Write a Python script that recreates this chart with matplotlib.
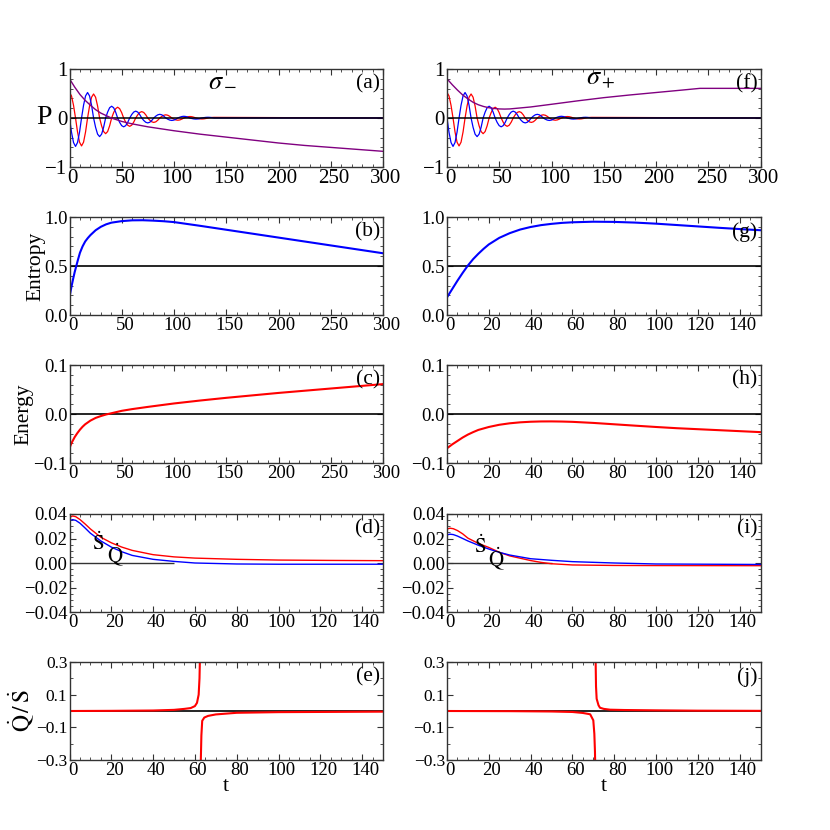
import matplotlib
matplotlib.use("Agg")
import matplotlib.pyplot as plt
import matplotlib.transforms as mtrans
from matplotlib.ticker import MultipleLocator

plt.rcParams['font.family'] = ['Liberation Serif', 'DejaVu Serif']
plt.rcParams['mathtext.fontset'] = 'stix'

BLUE = '#0000ff'
RED = '#ff0000'
PURPLE = '#800080'

# ---------------- data --------------------------------------

# polarisation components (panels a, f), sampled every 1.92 time units
t_osc = [0, 1.92, 3.84, 5.76, 7.68, 9.6, 11.52, 13.44, 15.36, 17.28, 19.2, 21.12,
         23.04, 24.96, 26.88, 28.8, 30.72, 32.64, 34.56, 36.48, 38.4, 40.32, 42.24, 44.16,
         46.08, 48.0, 49.92, 51.84, 53.76, 55.68, 57.6, 59.52, 61.44, 63.36, 65.28, 67.2,
         69.12, 71.04, 72.96, 74.88, 76.8, 78.72, 80.64, 82.56, 84.48, 86.4, 88.32, 90.24,
         92.16, 94.08, 96.0, 97.92, 99.84, 101.76, 103.68, 105.6, 107.52, 109.44, 111.36, 113.28,
         115.2, 117.12, 119.04, 120.96, 122.88, 124.8, 126.72, 128.64, 130.56, 132.48, 134.4, 136.32,
         138.24, 300]
p_blue = [0, -0.29, -0.50, -0.58, -0.50, -0.29, 0, 0.26, 0.45, 0.52, 0.45, 0.26,
          0, -0.19, -0.33, -0.38, -0.33, -0.19, 0, 0.12, 0.21, 0.24, 0.21, 0.12,
          0, -0.09, -0.156, -0.18, -0.156, -0.09, 0, 0.07, 0.121, 0.14, 0.121, 0.07,
          0, -0.05, -0.087, -0.10, -0.087, -0.05, 0, 0.0375, 0.065, 0.075, 0.065, 0.0375,
          0, -0.025, -0.043, -0.05, -0.043, -0.025, 0, 0.0175, 0.03, 0.035, 0.03, 0.0175,
          0, -0.011, -0.019, -0.022, -0.019, -0.011, 0, 0.0075, 0.013, 0.015, 0.013, 0.0075,
          0, 0]
p_red = [0.52, 0.45, 0.26, 0, -0.285, -0.494, -0.57, -0.494, -0.285, 0, 0.245, 0.424,
         0.49, 0.424, 0.245, 0, -0.16, -0.277, -0.32, -0.277, -0.16, 0, 0.11, 0.19,
         0.22, 0.19, 0.11, 0, -0.085, -0.147, -0.17, -0.147, -0.085, 0, 0.065, 0.113,
         0.13, 0.113, 0.065, 0, -0.045, -0.078, -0.09, -0.078, -0.045, 0, 0.0325, 0.056,
         0.065, 0.056, 0.0325, 0, -0.0225, -0.039, -0.045, -0.039, -0.0225, 0, 0.015, 0.026,
         0.03, 0.026, 0.015, 0, -0.01, -0.017, -0.02, -0.017, -0.01, 0, 0.0065, 0.011,
         0.013, 0]

t_pa = [0, 5, 10, 15, 20, 25, 30, 40, 50, 60, 75, 100, 125, 150, 175, 200, 225, 250, 275, 300]
p_purple_a = [0.80, 0.63, 0.48, 0.36, 0.26, 0.17, 0.10, 0.0, -0.07, -0.12, -0.18, -0.26,
              -0.33, -0.39, -0.45, -0.51, -0.56, -0.60, -0.64, -0.68]
t_pf = [0, 5, 10, 15, 20, 25, 30, 35, 40, 45, 50, 55, 60, 70, 80, 100, 125, 150, 175, 200,
        225, 242, 300]
p_purple_f = [0.80, 0.68, 0.57, 0.47, 0.39, 0.32, 0.27, 0.235, 0.21, 0.195, 0.185, 0.182,
              0.185, 0.205, 0.225, 0.28, 0.35, 0.415, 0.47, 0.52, 0.57, 0.605, 0.605]

# entropy (b, g)
t_sb = [0, 1, 2, 3.5, 5, 6.5, 8, 10, 12.5, 15, 17.5, 20, 25, 30, 35, 40, 50, 60, 70, 80, 90,
        100, 125, 150, 175, 200, 225, 250, 275, 300]
s_b = [0.18, 0.24, 0.295, 0.37, 0.44, 0.50, 0.56, 0.635, 0.70, 0.75, 0.785, 0.815, 0.865, 0.90,
       0.925, 0.942, 0.958, 0.966, 0.967, 0.963, 0.957, 0.948, 0.91, 0.87, 0.83, 0.79, 0.75,
       0.71, 0.67, 0.63]
t_sg = [0, 2.5, 5, 7.5, 10, 12.5, 15, 17.5, 20, 25, 30, 35, 40, 45, 50, 55, 60, 70, 80, 90,
        100, 110, 120, 130, 140, 150]
s_g = [0.18, 0.265, 0.35, 0.43, 0.505, 0.57, 0.625, 0.675, 0.72, 0.787, 0.835, 0.872, 0.898,
       0.917, 0.93, 0.94, 0.946, 0.952, 0.95, 0.943, 0.932, 0.918, 0.904, 0.89, 0.877, 0.865]

# energy (c, h)
t_ec = [0, 1, 2.5, 5, 7.5, 10, 12.5, 15, 20, 25, 30, 35, 40, 50, 60, 75, 100, 125, 150, 200,
        250, 300]
e_c = [-0.0704, -0.064, -0.057, -0.047, -0.039, -0.032, -0.026, -0.021, -0.0135, -0.008,
       -0.0042, -0.001, 0.0015, 0.0065, 0.010, 0.0145, 0.0215, 0.0275, 0.033, 0.043, 0.052, 0.061]
t_eh = [0, 2.5, 5, 7.5, 10, 12.5, 15, 20, 25, 30, 35, 40, 45, 50, 55, 60, 70, 80, 90, 100,
        110, 120, 135, 150]
e_h = [-0.070, -0.062, -0.055, -0.048, -0.042, -0.037, -0.0325, -0.0265, -0.022, -0.019,
       -0.017, -0.0158, -0.0152, -0.0151, -0.0154, -0.016, -0.0182, -0.021, -0.0238, -0.0265,
       -0.029, -0.031, -0.034, -0.037]

# rates (d, i): red = S dot, blue = Q dot
t_dr = [0, 1.5, 3, 5, 7.5, 10, 15, 20, 25, 30, 40, 50, 60, 80, 100, 125, 150]
d_red = [0.0373, 0.0384, 0.0378, 0.0355, 0.0318, 0.0278, 0.021, 0.0165, 0.013, 0.0103, 0.0068,
         0.005, 0.004, 0.003, 0.0024, 0.0021, 0.0019]
t_db = [0, 1.5, 3, 5, 7.5, 10, 15, 20, 25, 30, 40, 50, 60, 80, 100, 150]
d_blue = [0.0346, 0.0354, 0.0348, 0.0325, 0.0285, 0.0243, 0.018, 0.013, 0.0092, 0.0062, 0.003,
          0.0013, 0.0, -0.0008, -0.001, -0.001]
t_ir = [0, 1.5, 3, 5, 7.5, 10, 15, 20, 25, 30, 40, 45, 50, 60, 80, 100, 150]
i_red = [0.0278, 0.0284, 0.0280, 0.0265, 0.0238, 0.0203, 0.016, 0.0127, 0.0088, 0.0058, 0.002,
         0.0005, -0.0006, -0.0016, -0.002, -0.0021, -0.0022]
t_ib = [0, 1.5, 3, 5, 7.5, 10, 15, 20, 25, 30, 40, 50, 60, 80, 100, 150]
i_blue = [0.023, 0.0235, 0.0232, 0.022, 0.020, 0.018, 0.0145, 0.0114, 0.0087, 0.0065, 0.0035,
          0.0022, 0.0011, 0.0, -0.0008, -0.0012]
rate_zero_end = 50

# ratio Q dot / S dot (e, j), two branches around the pole
t_e1 = [0, 20, 40, 50, 55, 58, 60, 61, 61.8, 62.2, 62.4]
r_e1 = [0.0, 0.001, 0.003, 0.007, 0.013, 0.018, 0.03, 0.05, 0.1, 0.2, 0.32]
t_e2 = [62.8, 63.1, 63.5, 64.5, 66.3, 70, 80, 100, 150]
r_e2 = [-0.32, -0.15, -0.06, -0.04, -0.03, -0.021, -0.011, -0.007, -0.004]
t_j1 = [0, 30, 50, 60, 65, 68.5, 70, 70.5, 70.8, 70.9]
r_j1 = [0, -0.001, -0.003, -0.006, -0.012, -0.02, -0.057, -0.14, -0.25, -0.32]
t_j2 = [71.1, 71.3, 71.6, 72.5, 73.2, 75, 78, 85, 100, 120, 150]
r_j2 = [0.32, 0.15, 0.075, 0.035, 0.02, 0.013, 0.008, 0.006, 0.004, 0.002, 0.001]

# ---------------- layout -----------------

FIG = 830.0
COL_X = [69.5, 447.0]
ROW_Y = [69, 217, 365, 514, 662]
W, H = 313.5, 98.0

fig = plt.figure(figsize=(8.3, 8.3), dpi=100)
shift = mtrans.ScaledTranslation(3 / 100, 0, fig.dpi_scale_trans)


def make_ax(col, row):
    x0, y0 = COL_X[col], ROW_Y[row]
    return fig.add_axes([x0 / FIG, 1 - (y0 + H) / FIG, W / FIG, H / FIG])


def fmt(v, nd):
    return (f"{v:.{nd}f}").replace('-', '\u2212')


def style(ax, xmax, ylim, yticks, nd, yminor, label, size=13.5, ysize=None):
    ax.set_xlim(0, xmax)
    ax.set_ylim(*ylim)
    if xmax == 300:
        ax.xaxis.set_major_locator(MultipleLocator(50))
        ax.xaxis.set_minor_locator(MultipleLocator(10))
    else:
        ax.xaxis.set_major_locator(MultipleLocator(20))
        ax.xaxis.set_minor_locator(MultipleLocator(5))
    ax.set_yticks(yticks)
    ax.set_yticklabels([fmt(v, nd) for v in yticks])
    ax.yaxis.set_minor_locator(MultipleLocator(yminor))
    ax.tick_params(which='both', direction='in', top=True, right=True, color='#333333')
    ax.tick_params(which='major', length=4, width=0.8, labelsize=size, pad=1.5)
    ax.tick_params(axis='y', labelsize=ysize or size)
    ax.tick_params(which='minor', length=2, width=0.6)
    for lab in ax.get_xticklabels():
        lab.set_transform(lab.get_transform() + shift)
    for s in ax.spines.values():
        s.set_linewidth(1.0)
        s.set_color('#333333')
    ax.text(0.99, 0.85, label, transform=ax.transAxes, ha='right', va='center', fontsize=15.5)


axes = {}
for col, names in enumerate(['abcde', 'fghij']):
    for row, nm in enumerate(names):
        axes[nm] = make_ax(col, row)

# (a) / (f)
for nm, tp, pp, sig in [('a', t_pa, p_purple_a, r'$\sigma_-$'), ('f', t_pf, p_purple_f, r'$\sigma_+$')]:
    ax = axes[nm]
    ax.plot(t_osc, p_red, color=RED, lw=0.9)
    ax.plot(t_osc, p_blue, color=BLUE, lw=0.9)
    ax.axhline(0, color='k', lw=1.1)
    ax.plot(tp, pp, color=PURPLE, lw=1.0)
    style(ax, 300, (-1, 1), [-1, 0, 1], 0, 0.2, f'({nm})', size=15)
    ax.text(147, 0.78, sig, ha='center', va='center', fontsize=19)
axes['a'].set_ylabel('P', rotation=0, fontsize=20, ha='center', va='center')
axes['a'].yaxis.set_label_coords(-0.083, 0.5)

# (b) / (g)
for nm, ts, ss, xm in [('b', t_sb, s_b, 300), ('g', t_sg, s_g, 150)]:
    ax = axes[nm]
    ax.axhline(0.5, color='k', lw=1.2)
    ax.plot(ts, ss, color=BLUE, lw=1.5)
    style(ax, xm, (0, 1), [0, 0.5, 1.0], 1, 0.1, f'({nm})')
axes['b'].set_ylabel('Entropy', fontsize=15.5, va='center')
axes['b'].yaxis.set_label_coords(-0.108, 0.5)

# (c) / (h)
for nm, te, ee, xm in [('c', t_ec, e_c, 300), ('h', t_eh, e_h, 150)]:
    ax = axes[nm]
    ax.axhline(0, color='k', lw=1.2)
    ax.plot(te, ee, color=RED, lw=1.5)
    style(ax, xm, (-0.1, 0.1), [-0.1, 0.0, 0.1], 1, 0.02, f'({nm})')
axes['c'].set_ylabel('Energy', fontsize=15.5, va='center')
axes['c'].yaxis.set_label_coords(-0.145, 0.5)

# (d) / (i)
for nm, tr, rr, tb, bb, spos, qpos in [
        ('d', t_dr, d_red, t_db, d_blue, (13.5, 0.0158), (22, 0.0062)),
        ('i', t_ir, i_red, t_ib, i_blue, (16, 0.0135), (23.5, 0.003))]:
    ax = axes[nm]
    ax.hlines(0, 0, rate_zero_end, color='#333333', lw=1.0)
    ax.plot(tr, rr, color=RED, lw=1.0)
    ax.plot(tb, bb, color=BLUE, lw=1.0)
    style(ax, 150, (-0.04, 0.04), [-0.04, -0.02, 0.0, 0.02, 0.04], 2, 0.005, f'({nm})')
    ax.text(*spos, r'$\dot{\mathrm{S}}$', ha='center', va='center', fontsize=15)
    ax.text(*qpos, r'$\dot{\mathrm{Q}}$', ha='center', va='center', fontsize=15)

# (e) / (j)
for nm, t1, r1, t2, r2 in [('e', t_e1, r_e1, t_e2, r_e2), ('j', t_j1, r_j1, t_j2, r_j2)]:
    ax = axes[nm]
    ax.axhline(0, color='k', lw=1.2)
    ax.plot(t1, r1, color=RED, lw=1.5)
    ax.plot(t2, r2, color=RED, lw=1.5)
    style(ax, 150, (-0.3, 0.3), [-0.3, -0.1, 0.1, 0.3], 1, 0.1, f'({nm})', ysize=12.5)
    ax.set_xlabel('t', fontsize=16)
    ax.xaxis.set_label_coords(0.5, -0.17)
axes['e'].set_ylabel(r'$\dot{\mathrm{Q}}\,/\,\dot{\mathrm{S}}$', fontsize=17, va='center')
axes['e'].yaxis.set_label_coords(-0.153, 0.5)

fig.savefig('out.png', dpi=100)
